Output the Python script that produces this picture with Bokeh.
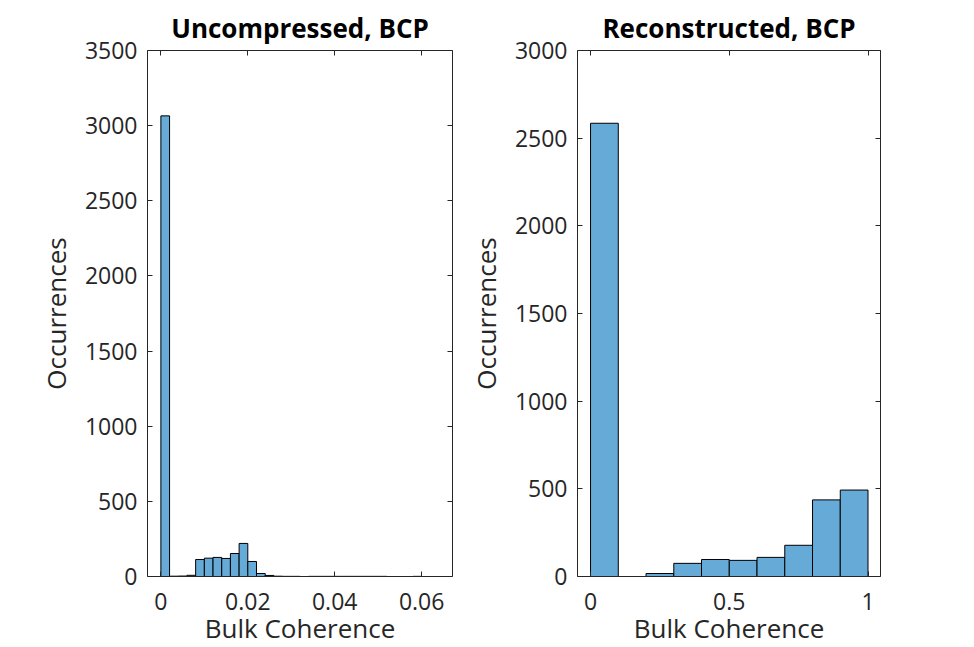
from bokeh.plotting import figure
from bokeh.layouts import row
from bokeh.models import LinearAxis, Range1d, FixedTicker, ColumnDataSource
from bokeh.embed import file_html
from bokeh.resources import INLINE

# ---- data ----
left_title = "Uncompressed, BCP"
left_bin_left = [0.000, 0.002, 0.004, 0.006, 0.008, 0.010, 0.012, 0.014, 0.016, 0.018,
                 0.020, 0.022, 0.024, 0.026, 0.028, 0.030, 0.032, 0.034, 0.036, 0.038,
                 0.040, 0.042, 0.044, 0.046, 0.048, 0.050, 0.052, 0.054, 0.056, 0.058]
left_bin_width = 0.002
left_counts = [3065, 2, 3, 8, 113, 122, 127, 120, 153, 220,
               100, 20, 7, 2, 1, 1, 0, 1, 1, 1,
               1, 1, 1, 1, 1, 1, 0, 0, 0, 1]
left_xticks = [0, 0.02, 0.04, 0.06]
left_xlabels = ["0", "0.02", "0.04", "0.06"]
left_yticks = [0, 500, 1000, 1500, 2000, 2500, 3000, 3500]

right_title = "Reconstructed, BCP"
right_bin_left = [0.0, 0.1, 0.2, 0.3, 0.4, 0.5, 0.6, 0.7, 0.8, 0.9]
right_bin_width = 0.1
right_counts = [2585, 0, 17, 75, 97, 92, 109, 178, 437, 493]
right_xticks = [0, 0.5, 1]
right_xlabels = ["0", "0.5", "1"]
right_yticks = [0, 500, 1000, 1500, 2000, 2500, 3000]

x_label = "Bulk Coherence"
y_label = "Occurrences"

FONT = "Open Sans"
AX = "#262626"
BAR = "#66AAD7"


def hist_fig(title, bin_left, width, counts, xr, yr, xticks, xlabels, yticks,
             fw, bl, br):
    keep = [i for i, c in enumerate(counts) if c > 0]
    src = ColumnDataSource(dict(
        left=[bin_left[i] for i in keep],
        right=[bin_left[i] + width for i in keep],
        top=[counts[i] for i in keep],
    ))
    p = figure(frame_width=fw, frame_height=526,
               x_range=Range1d(*xr), y_range=Range1d(*yr),
               output_backend="svg", toolbar_location=None,
               min_border_left=bl, min_border_right=br,
               min_border_top=50, min_border_bottom=71,
               background_fill_color="white", border_fill_color="white",
               title=title)
    p.outline_line_color = None
    p.xgrid.visible = False
    p.ygrid.visible = False
    p.title.align = "center"
    p.title.text_font = FONT
    p.title.text_font_style = "bold"
    p.title.text_font_size = "26px"
    p.title.text_color = "black"

    p.quad(left="left", right="right", top="top", bottom=0, source=src,
           fill_color=BAR, line_color="black", line_width=1)

    overrides = {t: l for t, l in zip(xticks, xlabels)}
    xa = p.xaxis[0]
    xa.ticker = FixedTicker(ticks=xticks)
    xa.major_label_overrides = overrides
    ya = p.yaxis[0]
    ya.ticker = FixedTicker(ticks=yticks)
    xa.axis_label = x_label
    ya.axis_label = y_label
    for ax in (xa, ya):
        ax.axis_line_color = AX
        ax.major_tick_line_color = AX
        ax.major_tick_in = 5
        ax.major_tick_out = 0
        ax.minor_tick_line_color = None
        ax.major_label_text_font = FONT
        ax.major_label_text_font_size = "23px"
        ax.major_label_text_color = AX
        ax.axis_label_text_font = FONT
        ax.axis_label_text_font_size = "26px"
        ax.axis_label_text_font_style = "normal"
        ax.axis_label_text_color = AX
    xa.major_label_standoff = 16
    xa.axis_label_standoff = -3
    ya.major_label_standoff = 10
    ya.axis_label_standoff = 8

    top = LinearAxis(ticker=FixedTicker(ticks=xticks))
    rgt = LinearAxis(ticker=FixedTicker(ticks=yticks))
    for ax in (top, rgt):
        ax.axis_line_color = AX
        ax.major_tick_line_color = AX
        ax.major_tick_in = 5
        ax.major_tick_out = 0
        ax.minor_tick_line_color = None
        ax.major_label_text_font_size = "1px"
        ax.major_label_text_color = None
        ax.major_label_standoff = 0
    p.add_layout(top, "above")
    p.add_layout(rgt, "right")
    return p


p1 = hist_fig(left_title, left_bin_left, left_bin_width, left_counts,
              (-0.00308, 0.0671), (0, 3500), left_xticks, left_xlabels,
              left_yticks, 305, 147, 12)
p2 = hist_fig(right_title, right_bin_left, right_bin_width, right_counts,
              (-0.047, 1.045), (0, 3000), right_xticks, right_xlabels,
              right_yticks, 303, 89, 95)

layout = row(p1, p2)
open("out.html", "w").write(file_html(layout, INLINE))
